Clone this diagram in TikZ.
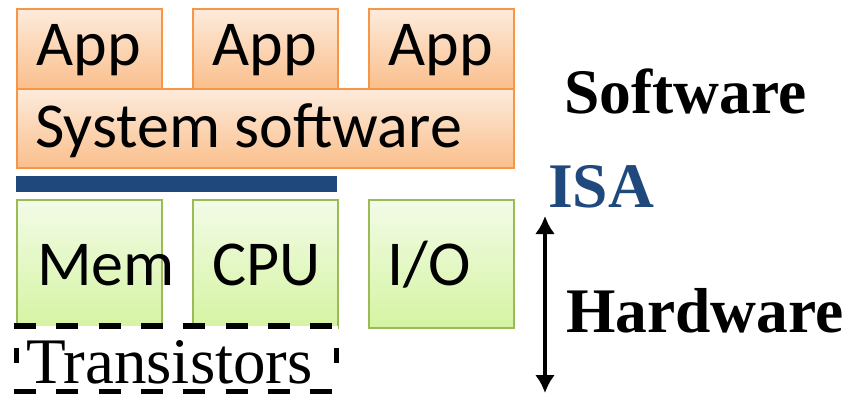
\documentclass[tikz,border=0pt]{standalone}
\usepackage{fontspec}
\setmainfont{Liberation Serif}
\newfontfamily\boxfont{Carlito}
\usetikzlibrary{arrows.meta,shadows}
\definecolor{swfill1}{HTML}{FDEBDC}
\definecolor{swfill2}{HTML}{FABF8C}
\definecolor{swline}{HTML}{F79646}
\definecolor{hwfill1}{HTML}{F3FBE7}
\definecolor{hwfill2}{HTML}{D5F4A2}
\definecolor{hwline}{HTML}{9BBB59}
\definecolor{isablue}{HTML}{1F497D}
\tikzset{
  swbox/.style={draw=swline, line width=1.6pt, top color=swfill1, bottom color=swfill2,
    drop shadow={shadow xshift=1.5pt, shadow yshift=-1.5pt, opacity=0.25},
    anchor=north west, inner sep=0pt},
  hwbox/.style={draw=hwline, line width=1.6pt, top color=hwfill1, bottom color=hwfill2,
    drop shadow={shadow xshift=1.5pt, shadow yshift=-1.5pt, opacity=0.25},
    anchor=north west, inner sep=0pt, minimum width=145pt, minimum height=128pt},
  boxtext/.style={inner sep=0pt, font=\boxfont\fontsize{64}{64}\selectfont},
  sidetext/.style={inner sep=0pt, anchor=base west, font=\bfseries\fontsize{63.5}{64}\selectfont},
  twoway/.style={line width=4.5pt,
    arrows={Latex[length=18pt,width=20pt]-Latex[length=18pt,width=20pt]}},
  dashedge/.style={line width=5.5pt, dash pattern=on 22pt off 20.3pt},
}
\begin{document}
\begin{tikzpicture}[x=1pt,y=-1pt]
\useasboundingbox (0,0) rectangle (848,394);
% software layer
\node[swbox, minimum width=497pt, minimum height=79pt] (sys) at (16,88) {};
\node[swbox, minimum width=145pt, minimum height=80pt] (app1) at (16,8) {};
\node[swbox, minimum width=145pt, minimum height=80pt] (app2) at (192,8) {};
\node[swbox, minimum width=145pt, minimum height=80pt] (app3) at (368,8) {};
\node[boxtext, anchor=base] (t1) at (88.5,65) {App};
\node[boxtext, anchor=base] (t2) at (264.5,65) {App};
\node[boxtext, anchor=base] (t3) at (440.5,65) {App};
\node[boxtext, anchor=base west] (tsys) at (35,147) {System software};
% ISA bar
\fill[isablue] (16,176) rectangle (337,192);
% hardware layer
\node[hwbox] (mem) at (16,199) {};
\node[hwbox] (cpu) at (192,199) {};
\node[hwbox] (io) at (368,199) {};
\node[boxtext, anchor=base west] (tmem) at (37,285) {Mem};
\node[boxtext, anchor=base west] (tcpu) at (212,285) {CPU};
\node[boxtext, anchor=base west] (tio) at (387,285) {I/O};
% transistors: white ground with a dashed frame
\fill[white] (14,326) rectangle (338,394);
\draw[dashedge] (14,326) -- (338,326);
\draw[dashedge] (14,391.5) -- (338,391.5);
\draw[line width=5pt] (16,348) -- (16,363);
\draw[line width=5pt] (336,348) -- (336,363);
\node[inner sep=0pt, anchor=base west, font=\fontsize{65}{65}\selectfont] (tr) at (26,383) {Transistors};
% labels
\node[sidetext] (sw) at (564,113) {Software};
\node[sidetext, text=isablue] (isa) at (548,207) {ISA};
\node[sidetext] (hw) at (566,332) {Hardware};
\coordinate (atop) at (545,216);
\coordinate (abot) at (545,393);
\draw[twoway] (atop) -- (abot);
\end{tikzpicture}
\end{document}
